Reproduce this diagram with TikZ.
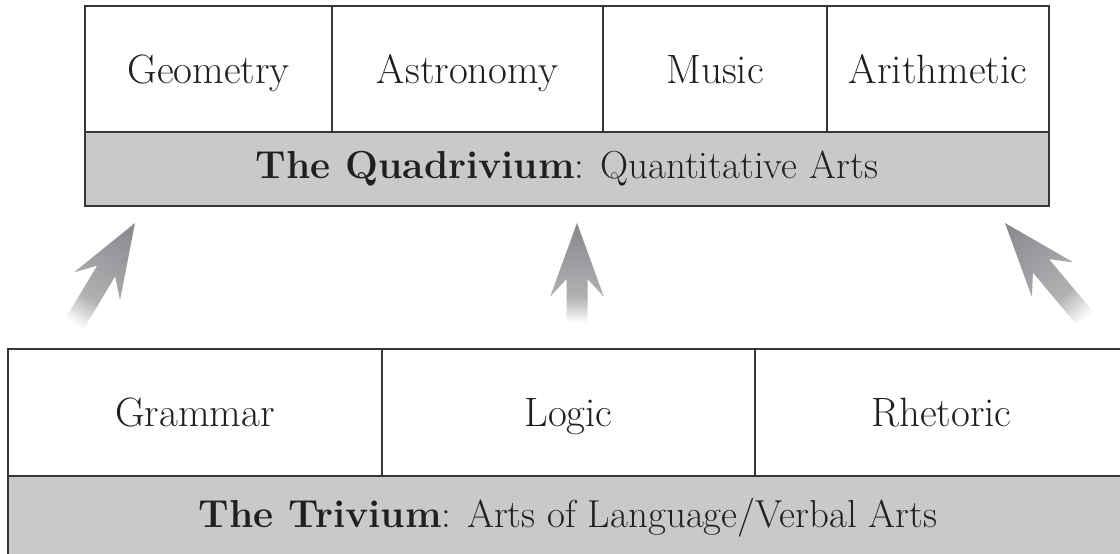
\documentclass[tikz,border=0pt]{standalone}
\usepackage{fontspec}
\definecolor{barfill}{RGB}{200,201,203}
\definecolor{linec}{RGB}{55,55,55}
\definecolor{txt}{RGB}{35,31,32}
\definecolor{tipgray}{RGB}{135,136,139}
\definecolor{midgray}{RGB}{176,177,179}
\pgfdeclareverticalshading{arrowfade}{100bp}{color(0bp)=(white); color(25bp)=(white); color(38bp)=(midgray); color(75bp)=(tipgray); color(100bp)=(tipgray)}
\begin{document}
\begin{tikzpicture}[x=1pt,y=-1pt,
  box/.style={draw=linec, line width=2pt, inner sep=0pt, outer sep=0pt, text=txt, font=\fontsize{39}{46}\selectfont},
  cell/.style={box, font=\fontsize{41}{48}\selectfont, text height=29pt, text depth=1pt},
  bar/.style={box, fill=barfill}]
\useasboundingbox (0,0) rectangle (1120,554);
\clip (0,0) rectangle (1120,554);
% Quadrivium
\node[cell, minimum width=247pt, minimum height=126pt] (geo) at (208.5,69) {Geometry};
\node[cell, minimum width=271pt, minimum height=126pt] (ast) at (467.5,69) {Astronomy};
\node[cell, minimum width=224pt, minimum height=126pt] (mus) at (715,69) {Music};
\node[cell, minimum width=222pt, minimum height=126pt] (ari) at (938,69) {Arithmetic};
\node[bar, minimum width=964pt, minimum height=74pt] (quad) at (567,169) {\textbf{The Quadrivium}: Quantitative Arts};
% Trivium
\node[cell, minimum width=374pt, minimum height=127pt] (gra) at (195,412.5) {Grammar};
\node[cell, minimum width=373pt, minimum height=127pt] (log) at (568.5,412.5) {Logic};
\node[cell, minimum width=373pt, minimum height=127pt] (rhe) at (941.5,412.5) {Rhetoric};
\node[bar, minimum width=1120pt, minimum height=84pt] (triv) at (568,518) {\textbf{The Trivium}: Arts of Language/Verbal Arts};
% arrows
\begin{scope}[transform canvas={shift={(135,223)},rotate=-31}]
\shade[shading=arrowfade] (0,0) -- (27,74) -- (10.5,56) -- (10.5,118) -- (-10.5,118) -- (-10.5,56) -- (-27,74) -- cycle;
\end{scope}
\begin{scope}[transform canvas={shift={(577,223)}}]
\shade[shading=arrowfade] (0,0) -- (27,74) -- (10.5,56) -- (10.5,100) -- (-10.5,100) -- (-10.5,56) -- (-27,74) -- cycle;
\end{scope}
\begin{scope}[transform canvas={shift={(1005,223)},rotate=40}]
\shade[shading=arrowfade] (0,0) -- (27,74) -- (10.5,56) -- (10.5,125) -- (-10.5,125) -- (-10.5,56) -- (-27,74) -- cycle;
\end{scope}
\end{tikzpicture}
\end{document}
